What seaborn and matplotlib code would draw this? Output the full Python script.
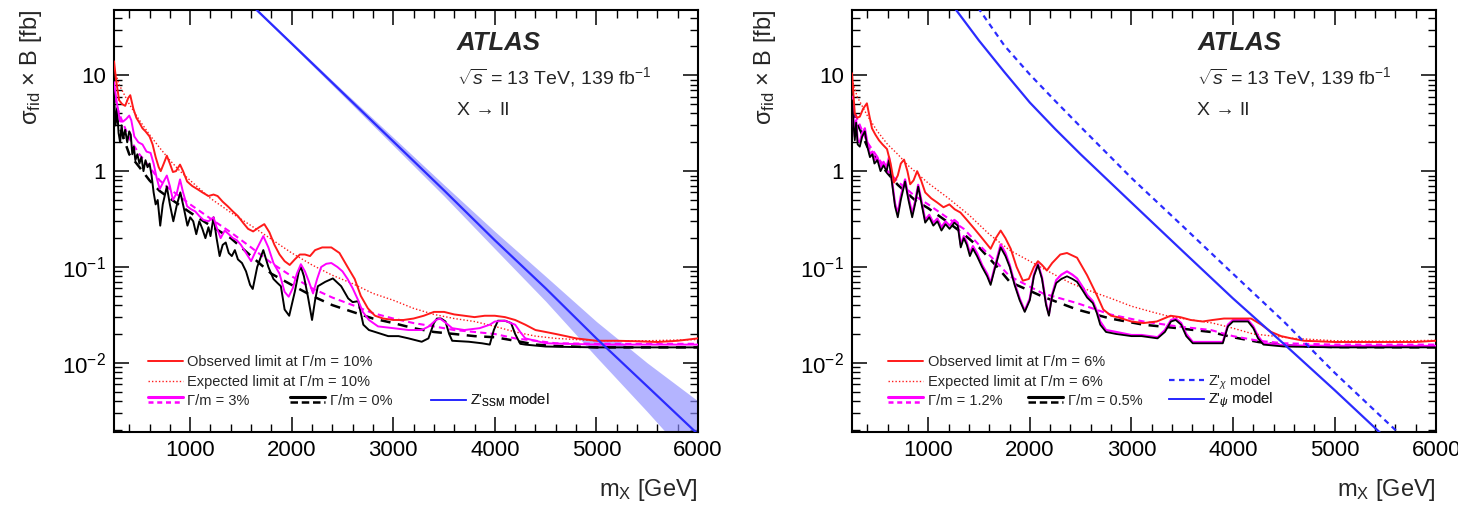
import numpy as np
import pandas as pd
import matplotlib
matplotlib.use("Agg")
import matplotlib.pyplot as plt
import seaborn as sns
from matplotlib.lines import Line2D
from matplotlib.legend_handler import HandlerBase
from matplotlib.ticker import MultipleLocator, LogLocator, NullFormatter

# ---------------- data ----------------
# left panel: Gamma/m = 10% (red), 3% (magenta), 0% (black)
obs10_m = [250, 270, 300, 330, 360, 390, 410, 440, 470, 500, 530, 560, 600, 630, 660, 690, 710, 740, 770,
           800, 830, 860, 900, 930, 970, 1020, 1070, 1120, 1180, 1230, 1270, 1320, 1370, 1420, 1470, 1520,
           1570, 1620, 1680, 1730, 1780, 1830, 1880, 1930, 1980, 2030, 2080, 2130, 2180, 2230, 2300, 2390,
           2470, 2550, 2620, 2680, 2750, 2820, 2900, 3000, 3100, 3200, 3300, 3400, 3500, 3600, 3700, 3800,
           3900, 4000, 4100, 4200, 4300, 4400, 4500, 4600, 4700, 4800, 5000, 5200, 5400, 5600, 5800, 6000]
obs10_y = [14, 9, 5.5, 5.0, 4.8, 5.8, 6.2, 4.5, 3.6, 3.2, 2.8, 2.6, 2.3, 1.9, 1.4, 1.1, 1.0, 1.2, 1.45,
           1.2, 0.98, 1.0, 1.17, 1.0, 0.78, 0.7, 0.65, 0.6, 0.55, 0.57, 0.55, 0.48, 0.43, 0.38, 0.34, 0.29,
           0.25, 0.235, 0.26, 0.28, 0.23, 0.17, 0.135, 0.115, 0.105, 0.12, 0.135, 0.135, 0.13, 0.15, 0.16, 0.16,
           0.14, 0.10, 0.075, 0.05, 0.037, 0.031, 0.029, 0.028, 0.028, 0.029, 0.031, 0.034, 0.034, 0.032, 0.031, 0.030,
           0.031, 0.031, 0.030, 0.028, 0.025, 0.022, 0.021, 0.020, 0.019, 0.018, 0.017, 0.017, 0.0168, 0.0165, 0.017, 0.018]

exp10_m = [250, 300, 400, 500, 600, 700, 800, 900, 1000, 1200, 1400, 1600, 1800, 2000, 2200, 2400, 2600,
           2800, 3000, 3200, 3400, 3600, 3800, 4000, 4200, 4400, 4600, 5000, 5500, 6000]
exp10_y = [12, 8, 5, 3.4, 2.4, 1.75, 1.3, 1.0, 0.8, 0.52, 0.37, 0.27, 0.195, 0.14, 0.105, 0.082, 0.067,
           0.053, 0.045, 0.037, 0.032, 0.029, 0.027, 0.024, 0.021, 0.019, 0.018, 0.017, 0.017, 0.0175]

obs3_m = [250, 280, 310, 340, 370, 400, 420, 450, 490, 530, 570, 610, 640, 670, 700, 730, 770, 800, 830,
          870, 900, 930, 970, 1010, 1050, 1090, 1130, 1180, 1230, 1260, 1300, 1340, 1380, 1420, 1460, 1500,
          1550, 1600, 1650, 1720, 1770, 1820, 1880, 1930, 1970, 2010, 2050, 2090, 2130, 2170, 2210, 2250,
          2290, 2340, 2390, 2450, 2500, 2550, 2600, 2650, 2700, 2760, 2850, 3000, 3150, 3280, 3350, 3420,
          3460, 3520, 3580, 3700, 3850, 3950, 4000, 4100, 4200, 4250, 4300, 4400, 4500, 4700, 5000, 5500, 6000]
obs3_y = [8.5, 5, 3.3, 3.3, 3.5, 3.8, 3.4, 2.3, 2.0, 1.9, 1.6, 1.55, 1.2, 0.85, 0.65, 0.75, 0.9, 0.7, 0.5,
          0.6, 0.82, 0.6, 0.43, 0.40, 0.38, 0.34, 0.31, 0.30, 0.33, 0.26, 0.20, 0.24, 0.22, 0.2, 0.19, 0.17,
          0.14, 0.115, 0.15, 0.21, 0.16, 0.11, 0.085, 0.055, 0.049, 0.06, 0.085, 0.107, 0.09, 0.07, 0.053, 0.075,
          0.1, 0.108, 0.11, 0.1, 0.09, 0.075, 0.06, 0.046, 0.034, 0.028, 0.024, 0.023, 0.022, 0.022, 0.024, 0.028,
          0.029, 0.026, 0.023, 0.022, 0.023, 0.025, 0.027, 0.0275, 0.025, 0.021, 0.018, 0.017, 0.016, 0.0158, 0.0155, 0.0155, 0.0155]

exp3_m = [250, 300, 400, 500, 600, 700, 800, 1000, 1200, 1400, 1600, 1800, 2000, 2200, 2400, 2600, 2800,
          3000, 3200, 3400, 3600, 3800, 4000, 4200, 4400, 4600, 5000, 6000]
exp3_y = [6, 4, 2.2, 1.5, 1.1, 0.8, 0.65, 0.45, 0.32, 0.23, 0.16, 0.11, 0.08, 0.06, 0.048, 0.04, 0.033,
          0.029, 0.026, 0.024, 0.022, 0.021, 0.02, 0.018, 0.017, 0.016, 0.0158, 0.0158]

obs0_m = [250, 265, 280, 295, 310, 325, 340, 360, 380, 400, 415, 430, 445, 460, 480, 500, 520, 540, 560,
          580, 600, 620, 640, 660, 680, 705, 730, 770, 800, 834, 870, 903, 940, 973, 1000, 1030, 1060, 1090,
          1120, 1150, 1180, 1200, 1230, 1260, 1290, 1320, 1350, 1380, 1410, 1440, 1470, 1510, 1550, 1590,
          1616, 1660, 1720, 1770, 1820, 1860, 1893, 1930, 1975, 2030, 2070, 2091, 2120, 2158, 2200, 2230,
          2257, 2330, 2405, 2487, 2556, 2600, 2655, 2705, 2760, 2821, 2950, 3052, 3150, 3280, 3346, 3400,
          3430, 3470, 3514, 3550, 3580, 3745, 3873, 3950, 3990, 4030, 4100, 4160, 4200, 4250, 4300, 4500,
          5000, 6000]
obs0_y = [6, 3.0, 4.5, 2.5, 2.0, 3.0, 2.2, 2.7, 2.0, 2.6, 2.4, 1.5, 1.8, 1.3, 1.5, 1.2, 1.4, 1.0, 1.3,
          1.1, 1.2, 0.9, 0.6, 0.45, 0.5, 0.27, 0.45, 0.69, 0.45, 0.3, 0.45, 0.6, 0.4, 0.27, 0.33, 0.3, 0.22, 0.3,
          0.25, 0.2, 0.26, 0.21, 0.33, 0.2, 0.13, 0.17, 0.18, 0.14, 0.13, 0.15, 0.12, 0.11, 0.09, 0.065,
          0.059, 0.1, 0.15, 0.1, 0.075, 0.068, 0.063, 0.036, 0.031, 0.055, 0.09, 0.1, 0.08, 0.05, 0.028, 0.045,
          0.063, 0.07, 0.076, 0.063, 0.047, 0.043, 0.044, 0.025, 0.022, 0.021, 0.019, 0.019, 0.018, 0.0166, 0.018, 0.026,
          0.029, 0.029, 0.027, 0.02, 0.017, 0.0166, 0.016, 0.0155, 0.022, 0.0275, 0.0275, 0.026, 0.02, 0.0158, 0.0155, 0.0148,
          0.0145, 0.0145]

exp0_m = [250, 300, 400, 500, 600, 700, 800, 1000, 1200, 1400, 1600, 1800, 2000, 2200, 2400, 2600, 2800,
          3000, 3200, 3400, 3600, 3800, 4000, 4200, 4400, 4600, 5000, 6000]
exp0_y = [4, 3, 1.5, 1.1, 0.8, 0.62, 0.52, 0.37, 0.27, 0.2, 0.13, 0.085, 0.065, 0.05, 0.04, 0.034, 0.029,
          0.026, 0.023, 0.021, 0.020, 0.019, 0.0185, 0.017, 0.0155, 0.015, 0.0145, 0.0145]

ssm_m = [1500, 2000, 2500, 3000, 3500, 4000, 4500, 5000, 5500, 6000]
ssm_y = [69, 21.4, 6.6, 2.04, 0.63, 0.19, 0.06, 0.018, 0.0057, 0.0018]
ssm_lo = [67, 20.6, 6.2, 1.85, 0.55, 0.155, 0.044, 0.0115, 0.0031, 0.0008]
ssm_hi = [71, 22.2, 7.0, 2.25, 0.72, 0.235, 0.08, 0.027, 0.0100, 0.0040]

# right panel: Gamma/m = 6% (red), 1.2% (magenta), 0.5% (black)
obs6_m = [250, 265, 277, 300, 326, 360, 396, 420, 446, 480, 515, 550, 594, 630, 663, 700, 730, 762, 795,
          822, 855, 891, 930, 970, 1030, 1089, 1150, 1208, 1260, 1317, 1380, 1455, 1530, 1614, 1665, 1713,
          1760, 1812, 1870, 1931, 1990, 2040, 2080, 2120, 2168, 2220, 2300, 2366, 2465, 2564, 2663, 2723,
          2800, 2861, 3000, 3119, 3250, 3386, 3480, 3584, 3700, 3800, 3911, 4050, 4178, 4280, 4376, 4474,
          4574, 4700, 5000, 5500, 5800, 6000]
obs6_y = [10.5, 6, 4.0, 3.6, 3.7, 4.5, 5.1, 3.8, 2.8, 2.4, 2.1, 1.9, 1.7, 1.2, 0.76, 0.9, 1.2, 1.32, 1.0,
          0.73, 0.8, 1.0, 0.8, 0.6, 0.52, 0.47, 0.42, 0.45, 0.4, 0.37, 0.31, 0.25, 0.2, 0.155, 0.2, 0.24,
          0.2, 0.155, 0.1, 0.072, 0.075, 0.1, 0.115, 0.105, 0.092, 0.11, 0.135, 0.14, 0.125, 0.082, 0.05, 0.036,
          0.031, 0.03, 0.027, 0.026, 0.027, 0.031, 0.030, 0.028, 0.027, 0.028, 0.029, 0.029, 0.029, 0.025, 0.021, 0.019,
          0.018, 0.017, 0.0165, 0.0165, 0.0165, 0.017]

exp6_m = [250, 300, 400, 500, 600, 700, 800, 1000, 1200, 1400, 1600, 1800, 2000, 2200, 2400, 2600, 2800,
          3000, 3200, 3400, 3600, 3800, 4000, 4200, 4400, 4600, 5000, 5500, 6000]
exp6_y = [9, 6, 3.8, 2.6, 1.9, 1.5, 1.15, 0.75, 0.52, 0.35, 0.22, 0.15, 0.115, 0.088, 0.068, 0.056, 0.047,
          0.039, 0.034, 0.030, 0.028, 0.026, 0.023, 0.02, 0.019, 0.018, 0.017, 0.0168, 0.0172]

obs05_m = [250, 265, 277, 290, 305, 326, 350, 376, 400, 426, 450, 470, 500, 530, 560, 590, 614, 640, 673,
           700, 730, 772, 805, 842, 870, 901, 935, 970, 1010, 1050, 1090, 1130, 1170, 1210, 1257, 1290, 1320,
           1350, 1380, 1410, 1440, 1480, 1530, 1580, 1614, 1660, 1713, 1760, 1802, 1850, 1900, 1950, 2000,
           2040, 2080, 2120, 2160, 2188, 2220, 2260, 2310, 2366, 2420, 2465, 2520, 2564, 2620, 2660, 2693,
           2750, 2850, 3000, 3100, 3257, 3330, 3390, 3436, 3490, 3540, 3604, 3750, 3900, 3950, 4000, 4148,
           4200, 4247, 4300, 4500, 5000, 6000]
obs05_y = [5.5, 3.0, 2.1, 3.2, 1.9, 1.8, 2.3, 2.6, 1.8, 1.4, 1.5, 1.2, 1.3, 1.0, 1.15, 1.0, 1.3, 0.8, 0.43,
           0.33, 0.5, 0.78, 0.5, 0.33, 0.45, 0.69, 0.45, 0.29, 0.33, 0.27, 0.3, 0.24, 0.28, 0.25, 0.29, 0.27, 0.16,
           0.2, 0.17, 0.13, 0.155, 0.13, 0.1, 0.08, 0.065, 0.1, 0.16, 0.13, 0.1, 0.065, 0.045, 0.034, 0.045,
           0.08, 0.105, 0.075, 0.04, 0.031, 0.05, 0.068, 0.075, 0.08, 0.075, 0.07, 0.057, 0.048, 0.042, 0.033, 0.025,
           0.021, 0.02, 0.019, 0.019, 0.018, 0.021, 0.027, 0.028, 0.025, 0.019, 0.016, 0.016, 0.016, 0.024, 0.027, 0.027,
           0.023, 0.018, 0.0155, 0.0148, 0.0145, 0.0145]

obs12_y = [6.0, 3.3, 2.3, 3.4, 2.1, 2.0, 2.5, 2.8, 2.0, 1.5, 1.6, 1.3, 1.4, 1.1, 1.25, 1.1, 1.4, 0.85, 0.46,
           0.36, 0.55, 0.82, 0.54, 0.36, 0.48, 0.72, 0.48, 0.31, 0.35, 0.29, 0.32, 0.26, 0.3, 0.27, 0.31, 0.29, 0.17,
           0.21, 0.18, 0.14, 0.165, 0.14, 0.105, 0.085, 0.068, 0.105, 0.172, 0.14, 0.105, 0.068, 0.047, 0.035, 0.047,
           0.083, 0.108, 0.078, 0.042, 0.032, 0.052, 0.073, 0.083, 0.09, 0.083, 0.076, 0.062, 0.051, 0.044, 0.035, 0.027,
           0.022, 0.021, 0.0195, 0.0195, 0.0185, 0.022, 0.028, 0.029, 0.026, 0.02, 0.0165, 0.0165, 0.0165, 0.025, 0.028, 0.028,
           0.024, 0.019, 0.016, 0.0152, 0.015, 0.015]

exp12_m = [250, 300, 400, 500, 600, 700, 868, 1000, 1200, 1350, 1500, 1680, 1802, 2129, 2465, 2792,
           3119, 3455, 3782, 4000, 4250, 4500, 5000, 6000]
exp12_y = [5, 3.5, 2.0, 1.4, 1.0, 0.78, 0.55, 0.45, 0.32, 0.25, 0.17, 0.11, 0.08, 0.053, 0.042, 0.032,
           0.027, 0.024, 0.022, 0.019, 0.017, 0.016, 0.0155, 0.0155]
exp05_y = [4.5, 3.2, 1.8, 1.3, 0.95, 0.72, 0.5, 0.41, 0.29, 0.22, 0.16, 0.1, 0.07, 0.049, 0.036, 0.029,
           0.025, 0.023, 0.021, 0.0185, 0.0165, 0.0152, 0.0146, 0.0145]

zchi_m = [1400, 1500, 1750, 2000, 2250, 2500, 3000, 3500, 4000, 4500, 5000, 5500, 6000]
zchi_y = [71, 49, 20.4, 10.2, 5.4, 2.9, 0.85, 0.27, 0.085, 0.027, 0.0079, 0.0025, 0.0008]
zpsi_m = [1250, 1500, 1750, 2000, 2250, 2500, 3000, 3500, 4000, 4500, 5000, 5500]
zpsi_y = [52, 23, 10.8, 5.2, 2.75, 1.5, 0.47, 0.148, 0.047, 0.0158, 0.0052, 0.00166]

xticks = [1000, 2000, 3000, 4000, 5000, 6000]
yticks = [0.01, 0.1, 1, 10]
ytick_labels = ["$10^{-2}$", "$10^{-1}$", "1", "10"]

# ---------------- style ----------------
sns.set_style("ticks")
plt.rcParams['font.family'] = ['Liberation Sans', 'DejaVu Sans']
plt.rcParams['mathtext.fontset'] = 'custom'
plt.rcParams['mathtext.rm'] = 'Liberation Sans'
plt.rcParams['mathtext.it'] = 'Liberation Sans:italic'
plt.rcParams['mathtext.bf'] = 'Liberation Sans:bold'

RED, MAG, BLUE = '#ff1a1a', '#ff00ff', '#2b2bff'


class DoubleLine(HandlerBase):
    # solid line on top, dashed line below (ROOT style key)
    def create_artists(self, legend, orig_handle, xdescent, ydescent, width, height, fontsize, trans):
        out = []
        for h, frac in zip(orig_handle, (0.8, 0.25)):
            y = height * frac - ydescent
            ln = Line2D([-xdescent, width - xdescent], [y, y])
            ln.update_from(h)
            ln.set_transform(trans)
            out.append(ln)
        return out


def add_key(ax, handle, label, x, y):
    leg = ax.legend([handle], [label], loc='center left', bbox_to_anchor=(x, y), frameon=False,
                    fontsize=10.5, handlelength=2.4, handletextpad=0.3, borderpad=0, borderaxespad=0,
                    handler_map={tuple: DoubleLine()})
    ax.add_artist(leg)


def draw_curve(ax, m, y, **kw):
    df = pd.DataFrame({'m': m, 'y': y})
    sns.lineplot(data=df, x='m', y='y', ax=ax, estimator=None, sort=False, legend=False, **kw)


def style_axis(ax, x_pos):
    ax.set_yscale('log')
    ax.set_xlim(250, 6000)
    ax.set_ylim(0.0019, 48)
    ax.set_xticks(xticks)
    ax.xaxis.set_minor_locator(MultipleLocator(200))
    ax.set_yticks(yticks, ytick_labels)
    ax.yaxis.set_minor_locator(LogLocator(base=10, subs=np.arange(2, 10)))
    ax.yaxis.set_minor_formatter(NullFormatter())
    ax.tick_params(which='both', direction='in', top=True, right=True, colors='black', labelsize=16)
    ax.tick_params(which='major', length=11, width=1.1, pad=6)
    ax.tick_params(which='minor', length=6, width=1.0)
    ax.set_xlabel('')
    ax.set_ylabel('')
    for s in ax.spines.values():
        s.set_visible(True)
        s.set_linewidth(1.5)
        s.set_color('black')
    ax.text(0.587 + x_pos, 0.922, 'ATLAS', transform=ax.transAxes, fontsize=18.5, fontweight='bold',
            fontstyle='italic', va='center', ha='left')
    ax.text(0.587 + x_pos, 0.841, r'$\sqrt{s}$ = 13 TeV, 139 fb$^{-1}$', transform=ax.transAxes,
            fontsize=14, va='center', ha='left')
    ax.text(0.587 + x_pos, 0.763, 'X → ll', transform=ax.transAxes, fontsize=14, va='center', ha='left')


fig = plt.figure(figsize=(14.58, 5.05), dpi=100)
axL = fig.add_axes([0.0782, 0.1446, 0.4005, 0.8356])
axR = fig.add_axes([0.5844, 0.1446, 0.4006, 0.8356])

# ---- left panel ----
axL.fill_between(ssm_m, ssm_lo, ssm_hi, color='#8c8cff', alpha=0.65, lw=0, zorder=1)
draw_curve(axL, exp0_m, exp0_y, color='black', lw=1.8, linestyle=(0, (4, 3)), zorder=2)
draw_curve(axL, exp3_m, exp3_y, color=MAG, lw=1.5, linestyle=(0, (3, 2)), zorder=2)
draw_curve(axL, exp10_m, exp10_y, color=RED, lw=1.0, linestyle=(0, (1, 1.5)), zorder=2)
draw_curve(axL, obs0_m, obs0_y, color='black', lw=1.4, zorder=3)
draw_curve(axL, obs3_m, obs3_y, color=MAG, lw=1.4, zorder=3)
draw_curve(axL, obs10_m, obs10_y, color=RED, lw=1.4, zorder=3)
draw_curve(axL, ssm_m, ssm_y, color=BLUE, lw=1.6, zorder=4)
style_axis(axL, 0.0)

# ---- right panel ----
draw_curve(axR, exp12_m, exp05_y, color='black', lw=1.8, linestyle=(0, (4, 3)), zorder=2)
draw_curve(axR, exp12_m, exp12_y, color=MAG, lw=1.5, linestyle=(0, (3, 2)), zorder=2)
draw_curve(axR, exp6_m, exp6_y, color=RED, lw=1.0, linestyle=(0, (1, 1.5)), zorder=2)
draw_curve(axR, obs05_m, obs12_y, color=MAG, lw=1.6, zorder=3)
draw_curve(axR, obs05_m, obs05_y, color='black', lw=1.3, zorder=3)
draw_curve(axR, obs6_m, obs6_y, color=RED, lw=1.4, zorder=3)
draw_curve(axR, zchi_m, zchi_y, color=BLUE, lw=1.6, linestyle=(0, (2.5, 2)), zorder=4)
draw_curve(axR, zpsi_m, zpsi_y, color=BLUE, lw=1.6, zorder=4)
style_axis(axR, 0.004)

# ---- legends ----
h_obs = lambda c: Line2D([], [], color=c, lw=1.4)
h_exp = Line2D([], [], color=RED, lw=1.0, linestyle=(0, (1, 1.5)))
pair = lambda c, ls: (Line2D([], [], color=c, lw=2.2), Line2D([], [], color=c, lw=1.8, linestyle=ls))

add_key(axL, h_obs(RED), 'Observed limit at Γ/m = 10%', 0.058, 0.166)
add_key(axL, h_exp, 'Expected limit at Γ/m = 10%', 0.058, 0.118)
add_key(axL, pair(MAG, (0, (2, 1.5))), 'Γ/m = 3%', 0.058, 0.074)
add_key(axL, pair('black', (0, (3, 1.5))), 'Γ/m = 0%', 0.302, 0.074)
add_key(axL, h_obs(BLUE), "Z'$_{\\rm SSM}$ model", 0.542, 0.074)

add_key(axR, h_obs(RED), 'Observed limit at Γ/m = 6%', 0.062, 0.166)
add_key(axR, h_exp, 'Expected limit at Γ/m = 6%', 0.062, 0.118)
add_key(axR, pair(MAG, (0, (2, 1.5))), 'Γ/m = 1.2%', 0.062, 0.074)
add_key(axR, pair('black', (0, (3, 1.5))), 'Γ/m = 0.5%', 0.302, 0.074)
add_key(axR, Line2D([], [], color=BLUE, lw=1.6, linestyle=(0, (2.5, 2))), "Z'$_{\\chi}$ model", 0.542, 0.118)
add_key(axR, h_obs(BLUE), "Z'$_{\\psi}$ model", 0.542, 0.074)

# ---- axis titles (ROOT style: at the ends of the axes) ----
for ax, xl in ((axL, 0.021), (axR, 0.525)):
    fig.text(xl, 0.98, r'σ$_{\rm fid}$ × B [fb]', rotation=90, ha='center', va='top', fontsize=17)
    pos = ax.get_position()
    fig.text(pos.x1, 0.03, r'm$_{\rm X}$ [GeV]', ha='right', va='center', fontsize=17)

fig.savefig('out.png', dpi=100)
